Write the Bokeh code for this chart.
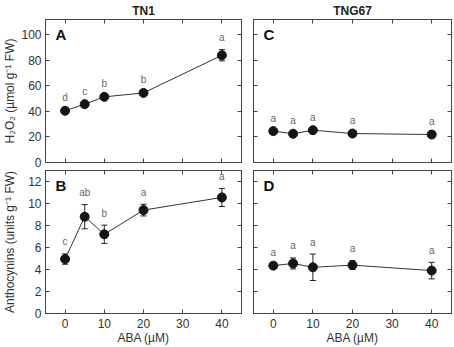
from bokeh.plotting import figure
from bokeh.models import Range1d, LinearAxis, FixedTicker, Whisker, TeeHead, ColumnDataSource, Label
from bokeh.layouts import column, row
from bokeh.core.properties import value
from bokeh.embed import file_html
from bokeh.resources import INLINE

# ---- data ----
aba = [0, 5, 10, 20, 40]
h2o2_tn1 = [40.5, 45.7, 51.4, 54.5, 84.0]
h2o2_tn1_err = [0.8, 0.8, 1.0, 0.8, 4.4]
h2o2_tn1_letters = ["d", "c", "b", "b", "a"]
h2o2_tng67 = [24.6, 22.5, 25.3, 22.7, 21.9]
h2o2_tng67_err = [0.8, 0.8, 0.8, 0.8, 0.8]
h2o2_tng67_letters = ["a", "a", "a", "a", "a"]
anth_tn1 = [4.95, 8.8, 7.2, 9.4, 10.55]
anth_tn1_err = [0.47, 1.1, 0.83, 0.53, 0.82]
anth_tn1_letters = ["c", "ab", "b", "a", "a"]
anth_tng67 = [4.35, 4.55, 4.2, 4.4, 3.9]
anth_tng67_err = [0.12, 0.5, 1.2, 0.4, 0.75]
anth_tng67_letters = ["a", "a", "a", "a", "a"]
x_ticks = [0, 10, 20, 30, 40]
h2o2_ticks = [0, 20, 40, 60, 80, 100]
anth_ticks = [0, 2, 4, 6, 8, 10, 12]

FONT = "Liberation Sans"
FRAME = "#444444"


def style_axis(ax, show_labels):
    ax.axis_line_color = FRAME
    ax.major_tick_line_color = FRAME
    ax.minor_tick_line_color = None
    ax.major_tick_in = 4
    ax.major_tick_out = 0
    ax.major_label_text_font = FONT
    ax.axis_label_text_font = FONT
    ax.axis_label_text_font_style = "normal"
    ax.axis_label_text_color = "#333333"
    ax.axis_label_text_font_size = "12px"
    if show_labels:
        ax.major_label_text_color = "#333333"
        ax.major_label_text_font_size = "12px"
        ax.major_label_standoff = 5
    else:
        ax.major_label_text_color = None
        ax.major_label_text_font_size = "0px"
        ax.major_label_standoff = 0


def make_panel(width, height, ymax, yticks, borders, vals, errs, letters,
               panel, title=None, xlab=False, ylab=None, ylab_standoff=1):
    p = figure(width=width, height=height, x_range=Range1d(-5, 45),
               y_range=Range1d(0, ymax), output_backend="svg",
               toolbar_location=None,
               min_border_left=borders[0], min_border_right=borders[1],
               min_border_top=borders[2], min_border_bottom=borders[3])
    p.xgrid.visible = False
    p.ygrid.visible = False
    p.outline_line_color = FRAME
    p.background_fill_color = "white"
    p.border_fill_color = "white"
    p.add_layout(LinearAxis(), "above")
    p.add_layout(LinearAxis(), "right")
    for ax in p.xaxis:
        ax.ticker = FixedTicker(ticks=x_ticks)
        style_axis(ax, False)
    for ax in p.yaxis:
        ax.ticker = FixedTicker(ticks=yticks)
        style_axis(ax, False)
    if xlab:
        style_axis(p.below[0], True)
        p.below[0].axis_label = "ABA (µM)"
        p.below[0].axis_label_standoff = 0
    if ylab is not None:
        style_axis(p.left[0], True)
        p.left[0].major_label_standoff = 4
        p.left[0].axis_label = ylab
        p.left[0].axis_label_standoff = ylab_standoff
    if title:
        p.title.text = title
        p.title.align = "center"
        p.title.text_font = FONT
        p.title.text_font_size = "12px"
        p.title.text_font_style = "bold"
        p.title.text_color = "#222222"
        p.title.standoff = 3

    upper = [v + e for v, e in zip(vals, errs)]
    lower = [v - e for v, e in zip(vals, errs)]
    src = ColumnDataSource(dict(x=aba, y=vals, upper=upper, lower=lower, t=letters))
    p.add_layout(Whisker(base="x", upper="upper", lower="lower", source=src,
                         line_color="#222222", line_width=1,
                         upper_head=TeeHead(size=6, line_color="#222222"),
                         lower_head=TeeHead(size=6, line_color="#222222")))
    p.line("x", "y", source=src, line_color="#333333", line_width=1)
    p.scatter("x", "y", source=src, size=9, fill_color="#151515", line_color="#151515")
    p.text("x", "upper", text="t", source=src, text_font=value(FONT),
           text_font_size=value("10px"), text_color="#666666",
           text_align="center", text_baseline="middle", y_offset=-12)
    p.add_layout(Label(x=-5, y=ymax, text=panel, x_offset=10, y_offset=-6,
                       text_baseline="top", text_font=FONT, text_font_size="15px",
                       text_font_style="bold", text_color="#111111"))
    return p


pA = make_panel(247, 170, 112, h2o2_ticks, (45, 6, 17, 8), h2o2_tn1, h2o2_tn1_err,
                h2o2_tn1_letters, "A", title="TN1", ylab="H₂O₂ (µmol g⁻¹ FW)")
pC = make_panel(207, 170, 112, h2o2_ticks, (6, 3, 17, 8), h2o2_tng67, h2o2_tng67_err,
                h2o2_tng67_letters, "C", title="TNG67")
pB = make_panel(247, 177, 13, anth_ticks, (45, 6, 0, 33), anth_tn1, anth_tn1_err,
                anth_tn1_letters, "B", xlab=True, ylab="Anthocynins (units g⁻¹ FW)",
                ylab_standoff=8)
pD = make_panel(207, 177, 13, anth_ticks, (6, 3, 0, 33), anth_tng67, anth_tng67_err,
                anth_tng67_letters, "D", xlab=True)

layout = column(row(pA, pC), row(pB, pD))
open("out.html", "w").write(file_html(layout, INLINE))
